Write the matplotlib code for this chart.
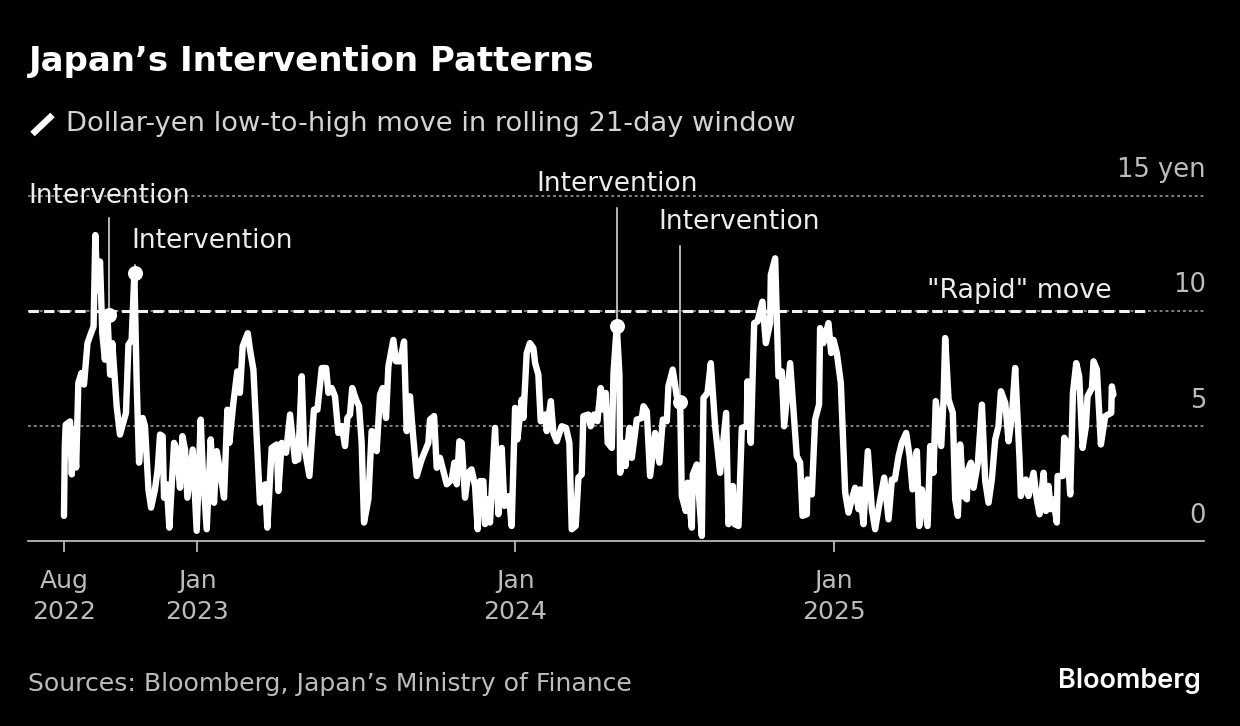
from datetime import date

import matplotlib

matplotlib.use("Agg")
import matplotlib.dates as mdates
import matplotlib.pyplot as plt
from matplotlib.lines import Line2D
import numpy as np

WIDTH, HEIGHT = 1240, 726
START = date(2022, 8, 1)

# days since START and the 21-day low-to-high move in yen
days = [
    0, 1, 2, 7, 9, 11, 14, 16.5, 20, 23, 27, 31, 34, 36, 38.3, 41.4, 44, 47, 49.8, 53,
    55.5, 60.5, 64.3, 71.2, 74, 77.7, 80.8, 83.5, 86.2, 90.4, 93, 97, 100, 104.5, 107.6,
    110.3, 113.3, 114.9, 118, 121, 126.4, 129.4, 133.2, 136, 139, 141.7, 147.8, 152.4,
    157, 159.3, 163.9, 168.5, 172.3, 175.4, 179.2, 183.8, 187.6, 189.9, 194.5, 199, 202,
    205.2, 211, 213.6, 217.5, 225, 230.9, 233.5, 238.5, 244.3, 246.2, 250, 255, 259.6,
    265.3, 269, 273, 275.6, 281.8, 287, 291, 296, 301, 303.6, 307.4, 311.2, 315, 319,
    322.7, 325.4, 328.4, 331, 335.3, 338.8, 341.8, 344.5, 349.5, 353.3, 357, 359, 362.9,
    366, 369.8, 372.5, 378.2, 381.3, 385.9, 390.5, 393.5, 397.3, 400.4, 405, 410.7,
    418.4, 420.3, 425, 428, 431.8, 439.5, 445.2, 448.3, 451, 454, 456.7, 460.5, 464.3,
    468, 472, 475, 477.7, 481.6, 483.5, 485.4, 489.2, 495, 498.8, 502.6, 505.7, 511, 514,
    518, 520.6, 525.6, 527.5, 531.3, 535, 539, 541, 544.7, 547.4, 552.4, 554.3, 559, 562,
    565.8, 571.5, 576.5, 580.3, 583, 587.6, 590.7, 594.5, 596.4, 602, 604.8, 608.6,
    612.5, 616.3, 619.4, 622, 624.3, 629, 631, 634.7, 637.8, 638.6, 643.2, 644.7, 649.3,
    652, 657.7, 663.5, 665.4, 669.2, 673, 678.8, 683.7, 687.6, 692.2, 694, 699, 703.6,
    707.5, 709.4, 714, 716, 720.9, 722, 726.6, 732.4, 734.3, 738.9, 742.7, 747.7, 753.4,
    760.3, 763, 768, 769.9, 774.5, 778.3, 784, 784.8, 788.6, 792.5, 796.3, 802, 805.9,
    810.8, 811.6, 816.6, 820.4, 824.2, 826.9, 833.8, 841.4, 845.3, 848, 853, 853.7,
    858.7, 862.5, 867, 868.2, 872, 877.8, 880.9, 883.6, 887.4, 892, 897, 900.8, 904.6,
    908.4, 912.3, 914.2, 918, 923, 927.6, 931.4, 935.2, 941.8, 946.8, 950.6, 954, 958.3,
    962, 967, 971, 974.3, 979.3, 982, 985, 991.6, 994.6, 998.4, 1001, 1007.3, 1010,
    1011.8, 1015.7, 1020.6, 1023.3, 1026.4, 1029, 1033, 1036.7, 1037.5, 1041.3, 1044.4,
    1049.4, 1054, 1057.8, 1061.6, 1065.4, 1069.3, 1073, 1075.8, 1080.8, 1084.6, 1088.4,
    1092.2, 1097.2, 1098.7, 1104.5, 1107.5, 1113.3, 1117, 1120.2, 1124.8, 1127.5, 1130.5,
    1133, 1136, 1140, 1140.9, 1147, 1148.5, 1151.6, 1155.4, 1158.5, 1162.3, 1165.7,
    1169.6, 1173.4, 1175.3, 1180.3, 1182.2, 1186, 1190.6, 1195.6, 1202.5, 1203.2, 1205,
]
yen_move = [
    1.1, 4.13, 5.06, 5.2, 2.9, 4.85, 3.2, 6.87, 7.3, 6.8, 8.6, 9.03, 9.32, 13.29, 10.9, 12.14, 9.03, 7.88, 9.9, 7.23,
    8.6, 5.86, 4.63, 5.57, 8.53, 8.74, 11.63, 6.87, 3.41, 5.35, 5.0, 2.25, 1.46, 2.25, 3.12,
    4.63, 4.56, 1.89, 2.47, 0.59, 4.27, 3.98, 2.32, 4.56, 3.98, 1.89, 3.98, 0.45,
    5.28, 3.12, 0.52, 4.42, 1.67, 3.91, 3.04, 1.89, 5.71, 4.27, 6.0, 7.37, 6.44,
    8.46, 9.03, 8.31, 7.45, 1.67, 2.47, 0.59, 4.05, 4.2, 2.18, 4.27, 3.84, 5.5,
    3.48, 3.55, 7.16, 4.2, 2.83, 5.71, 5.71, 7.52, 7.52, 6.44, 6.65, 6.29, 4.7, 5.0,
    4.13, 5.35, 5.5, 6.65, 6.15, 5.86, 4.27, 0.81, 1.82, 4.78, 4.7, 3.91, 6.36,
    6.65, 5.35, 7.59, 8.74, 7.81, 7.81, 8.67, 4.78, 6.29, 4.78, 2.83, 3.55,
    4.27, 5.28, 5.43, 3.19, 3.62, 2.47, 2.68, 3.41, 2.47, 4.34, 4.27, 1.89, 2.97,
    3.12, 2.4, 0.52, 2.61, 2.61, 0.74, 1.82, 0.81, 4.92, 1.17, 4.05, 1.53, 1.96, 0.66,
    5.79, 4.42, 6.15, 5.35, 8.17, 8.6, 8.38, 7.73, 7.23, 5.21, 5.5, 4.78, 6.08, 4.7,
    4.34, 4.99, 4.92, 4.27, 0.52, 0.66, 2.76, 2.9, 5.43, 5.5, 4.99, 5.5,
    5.21, 6.65, 5.71, 6.44, 4.27, 4.05, 7.3, 9.35, 7.23, 2.97, 4.27, 3.26, 4.92,
    3.62, 5.28, 5.35, 5.86, 5.64, 2.83, 4.7, 3.41, 5.28, 5.21, 6.72, 7.45, 6.29,
    6.03, 1.96, 1.31, 2.54, 0.59, 2.9, 3.33, 0.23, 6.22, 6.44, 7.73, 4.99, 2.97,
    5.57, 0.74, 2.4, 0.74, 0.66, 4.92, 4.99, 6.94, 4.27, 9.47, 9.54, 10.4, 8.6,
    9.47, 11.56, 12.28, 7.16, 7.37, 4.99, 7.73, 3.69, 3.41, 1.1, 1.17, 2.68,
    2.03, 5.28, 5.93, 9.25, 8.6, 9.47, 8.17, 8.74, 8.17, 6.87, 2.11, 1.24, 1.82,
    2.32, 1.39, 2.25, 0.74, 3.91, 1.39, 0.52, 1.39, 2.76, 0.95, 2.68, 2.68, 3.69,
    4.27, 4.7, 3.69, 2.25, 3.91, 0.66, 2.25, 0.66, 4.13, 2.97, 6.08, 4.13, 6.22,
    8.82, 6.15, 5.57, 1.82, 1.1, 4.2, 1.96, 1.82, 3.04, 3.41, 2.32,
    3.41, 5.93, 2.61, 1.67, 2.68, 4.42, 4.99, 6.51, 6.0, 4.34, 5.43,
    7.52, 3.55, 1.96, 2.68, 1.96, 2.97, 1.82, 1.17, 2.97, 1.31, 2.4,
    1.39, 1.82, 0.81, 2.83, 2.83, 4.49, 4.27, 2.03, 6.44, 7.73, 7.16,
    4.05, 4.99, 6.29, 6.65, 7.81, 7.45, 4.2, 5.43, 5.57, 6.72, 6.36,
]

intervention_days = [52, 81, 634.7, 707.5]
intervention_yen = [9.8, 11.63, 9.35, 6.03]
stem_tops = [14.05, 12.0, 14.45, 12.8]

rapid_move_yen = 10
y_ticks = [0, 5, 10, 15]
y_labels = ["0", "5", "10", "15 yen"]
x_tick_dates = [date(2022, 8, 1), date(2023, 1, 1), date(2024, 1, 1), date(2025, 1, 1)]
x_tick_labels = ["Aug\n2022", "Jan\n2023", "Jan\n2024", "Jan\n2025"]

FONT = "DejaVu Sans"
LIGHT = "#d4d4d4"
GREY = "#bcbcbc"
NOTE = "#ededed"


def fig_xy(x_px, y_px):
    return x_px / WIDTH, 1 - y_px / HEIGHT


def main():
    fig = plt.figure(figsize=(WIDTH / 100, HEIGHT / 100), dpi=100, facecolor="black")
    left, bottom = fig_xy(28, 541.2)
    right, top = fig_xy(1204, 195.7)
    ax = fig.add_axes([left, bottom, right - left, top - bottom], facecolor="black")

    origin = mdates.date2num(START)
    x = origin + np.array(days)
    x_min, x_max = origin - 41.3, origin + 1309

    # grid and threshold first, so the series sits on top of them
    for value in y_ticks[1:]:
        ax.plot([x_min, x_max], [value, value], color="#808080", lw=1.4,
                linestyle=(0, (1.5, 1.5)), clip_on=False, zorder=1)
    ax.plot([x_min, origin + 1245], [rapid_move_yen, rapid_move_yen], color="#f2f2f2", lw=2.2,
            linestyle=(0, (3.4, 1.7)), clip_on=False, zorder=2)

    for day, value, top_value in zip(intervention_days, intervention_yen, stem_tops):
        ax.plot([origin + day] * 2, [value, top_value], color="#e6e6e6", lw=1.1,
                clip_on=False, zorder=3)

    ax.plot(x, yen_move, color="white", lw=4.6, solid_joinstyle="round",
            solid_capstyle="round", clip_on=False, zorder=4)
    ax.plot(origin + np.array(intervention_days), intervention_yen, "o", color="white",
            ms=10.8, mew=0, clip_on=False, zorder=5)

    ax.set_xlim(x_min, x_max)
    ax.set_ylim(0, 15)
    for side in ["top", "left", "right"]:
        ax.spines[side].set_visible(False)
    ax.spines["bottom"].set_color("#c8c8c8")
    ax.spines["bottom"].set_linewidth(1.2)
    ax.set_yticks([])
    ax.set_xticks([mdates.date2num(d) for d in x_tick_dates])
    ax.set_xticklabels(x_tick_labels, fontsize=18, color=GREY, family=FONT, linespacing=1.38)
    ax.tick_params(axis="x", color="#c8c8c8", width=1.2, length=8, pad=12)

    for value, label in zip(y_ticks, y_labels):
        ax.annotate(label, (x_max, value), xytext=(1.5, 9), textcoords="offset points",
                    ha="right", va="bottom", fontsize=18.5, color=GREY, family=FONT,
                    annotation_clip=False)

    def put(x_px, y_px, text, **kwargs):
        fx, fy = fig_xy(x_px, y_px)
        kwargs.setdefault("family", FONT)
        kwargs.setdefault("va", "center")
        fig.text(fx, fy, text, **kwargs)

    put(28.5, 62, "Japan’s Intervention Patterns", fontsize=24.5, fontweight="bold", color="white")
    put(66, 124, "Dollar-yen low-to-high move in rolling 21-day window", fontsize=19.6, color=LIGHT)
    fig.add_artist(Line2D([32.5 / WIDTH, 52.5 / WIDTH], [1 - 134 / HEIGHT, 1 - 115 / HEIGHT],
                          color="white", lw=4.6, solid_capstyle="butt", transform=fig.transFigure))

    put(28, 196, "Intervention", fontsize=19, color=NOTE)
    put(131.5, 241, "Intervention", fontsize=19, color=NOTE)
    put(536.5, 184, "Intervention", fontsize=19, color=NOTE)
    put(658.5, 222, "Intervention", fontsize=19, color=NOTE)
    put(1112, 291, "\"Rapid\" move", fontsize=19.4, color=NOTE, ha="right")

    put(28, 684, "Sources: Bloomberg, Japan’s Ministry of Finance", fontsize=18.05, color=GREY)
    put(1201, 681, "Bloomberg", fontsize=19.5, fontweight="semibold", color="white",
        ha="right", family="Inter")

    fig.savefig("out.png", dpi=100, facecolor="black")
    plt.close(fig)


if __name__ == "__main__":
    main()
